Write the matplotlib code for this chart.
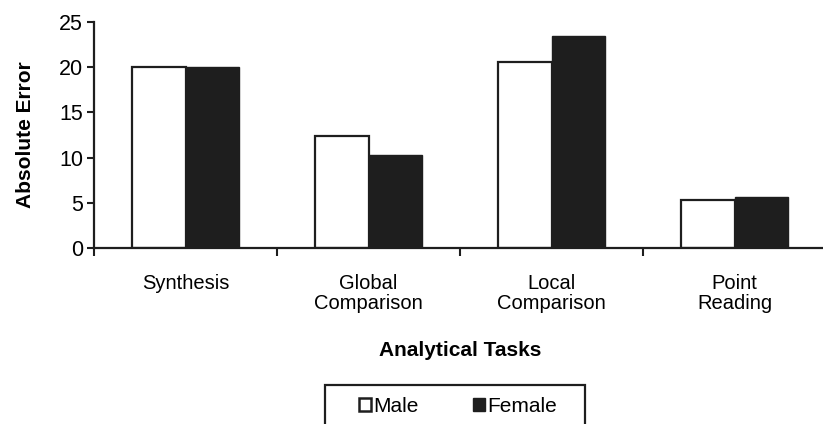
import matplotlib
matplotlib.use("Agg")
import matplotlib.pyplot as plt
from matplotlib.patches import Patch, Rectangle
import numpy as np

plt.rcParams['font.family'] = ['Liberation Sans', 'DejaVu Sans']

tasks = ['Synthesis', 'Global\nComparison', 'Local\nComparison', 'Point\nReading']
male = [20.0, 12.4, 20.6, 5.3]
female = [20.0, 10.3, 23.5, 5.6]

ink = '#1e1e1e'

fig = plt.figure(figsize=(8.23, 4.24), dpi=100)
ax = fig.add_axes([94 / 823, 176 / 424, 732 / 823, 226 / 424])

x = np.arange(len(tasks))
w = 0.29
ax.bar(x - w / 2, male, w, color='white', edgecolor=ink, linewidth=1.6, label='Male')
ax.bar(x + w / 2, female, w, color=ink, edgecolor=ink, linewidth=1.0, label='Female')

ax.set_xlim(-0.5, 3.5)
ax.set_ylim(0, 25)
ax.set_yticks([0, 5, 10, 15, 20, 25])

# category labels at centers, tick marks at group boundaries
ax.set_xticks(x)
ax.set_xticklabels(tasks, linespacing=1.05)
ax.set_xticks([-0.5, 0.5, 1.5, 2.5], minor=True)
ax.tick_params(axis='x', which='major', length=0, pad=19, labelsize=14.5)
ax.tick_params(axis='x', which='minor', length=6, width=1.5, color=ink, direction='out')
ax.tick_params(axis='y', length=5, width=1.5, color=ink, direction='out', labelsize=15.5, pad=3)

for s in ['top', 'right']:
    ax.spines[s].set_visible(False)
for s in ['left', 'bottom']:
    ax.spines[s].set_color(ink)
    ax.spines[s].set_linewidth(1.6)

ax.set_ylabel('Absolute Error', fontsize=15, fontweight='bold', labelpad=17)
ax.set_xlabel('Analytical Tasks', fontsize=15, fontweight='bold', labelpad=20)

handles = [Patch(facecolor='white', edgecolor=ink, linewidth=1.8, label='Male'),
           Patch(facecolor=ink, edgecolor=ink, label='Female')]
fig.legend(handles=handles, ncol=2, frameon=False, loc='center',
           bbox_to_anchor=(458 / 823, 1 - 406 / 424), fontsize=15,
           handlelength=0.6, handleheight=0.6, handletextpad=0.1,
           columnspacing=2.6, borderpad=0)
fig.add_artist(Rectangle((325 / 823, -0.03), 260 / 823, 0.03 + 1 - 385 / 424,
                         transform=fig.transFigure, fill=False, edgecolor=ink,
                         linewidth=1.6, clip_on=False))

fig.savefig('out.png', dpi=100, facecolor='white')
